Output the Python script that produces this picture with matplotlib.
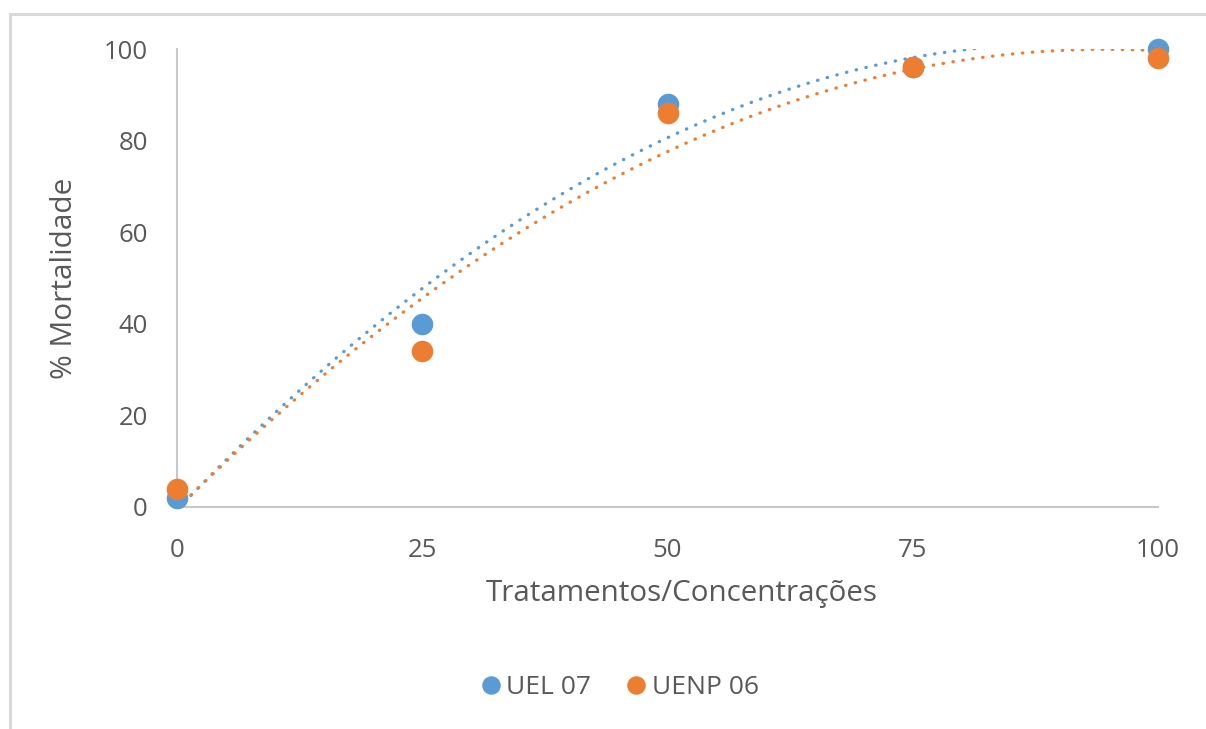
import numpy as np
import matplotlib.pyplot as plt
from matplotlib.patches import Rectangle

plt.rcParams['font.family'] = ['Open Sans', 'DejaVu Sans']

# dados
concentracoes = [0, 25, 50, 75, 100]
uel07 = [2, 40, 88, 96, 100]
uenp06 = [4, 34, 86, 96, 98]

azul = '#5B9BD5'
laranja = '#ED7D31'
cinza = '#595959'

fig = plt.figure(figsize=(12.06, 7.29), dpi=100)
ax = fig.add_axes([177 / 1206, 1 - 507 / 729, (1158 - 177) / 1206, (507 - 49) / 729])

# moldura do gráfico (Excel)
fig.patches.append(Rectangle((9.5 / 1206, -0.05), 1.2, 1 - 13.5 / 729 + 0.05,
                             transform=fig.transFigure, fill=False,
                             edgecolor='#D9D9D9', linewidth=2.2))

# linhas de tendência polinomial (ordem 2)
xs = np.linspace(0, 100, 300)
for serie, cor in [(uel07, azul), (uenp06, laranja)]:
    coef = np.polyfit(concentracoes, serie, 2)
    ax.plot(xs, np.polyval(coef, xs), color=cor, linewidth=2.4,
            linestyle=(0, (0.1, 2.9)), dash_capstyle='round', zorder=2)

ax.plot(concentracoes, uel07, 'o', color=azul, markersize=14.5, label='UEL 07',
        clip_on=False, zorder=3)
ax.plot(concentracoes, uenp06, 'o', color=laranja, markersize=14.5, label='UENP 06',
        clip_on=False, zorder=4)

ax.set_xlim(0, 100)
ax.set_ylim(0, 100)
ax.set_xticks([0, 25, 50, 75, 100])
ax.set_yticks([0, 20, 40, 60, 80, 100])
ax.tick_params(length=0, labelsize=18.5, labelcolor=cinza)
ax.tick_params(axis='x', pad=22)
ax.tick_params(axis='y', pad=21)

for lado in ['top', 'right']:
    ax.spines[lado].set_visible(False)
for lado in ['left', 'bottom']:
    ax.spines[lado].set_color('#C8C8C8')
    ax.spines[lado].set_linewidth(1.5)

ax.set_xlabel('Tratamentos/Concentrações', fontsize=21.3, color=cinza)
ax.xaxis.set_label_coords(0.515, -0.157)
ax.set_ylabel('% Mortalidade', fontsize=21.5, color=cinza, labelpad=18)

fig.legend(loc='center', bbox_to_anchor=(617 / 1206, 1 - 688 / 729), ncol=2,
           frameon=False, fontsize=19, labelcolor=cinza, markerscale=0.85,
           handletextpad=0.0, columnspacing=1.1, handlelength=1.2)

fig.savefig('out.png', dpi=100)
